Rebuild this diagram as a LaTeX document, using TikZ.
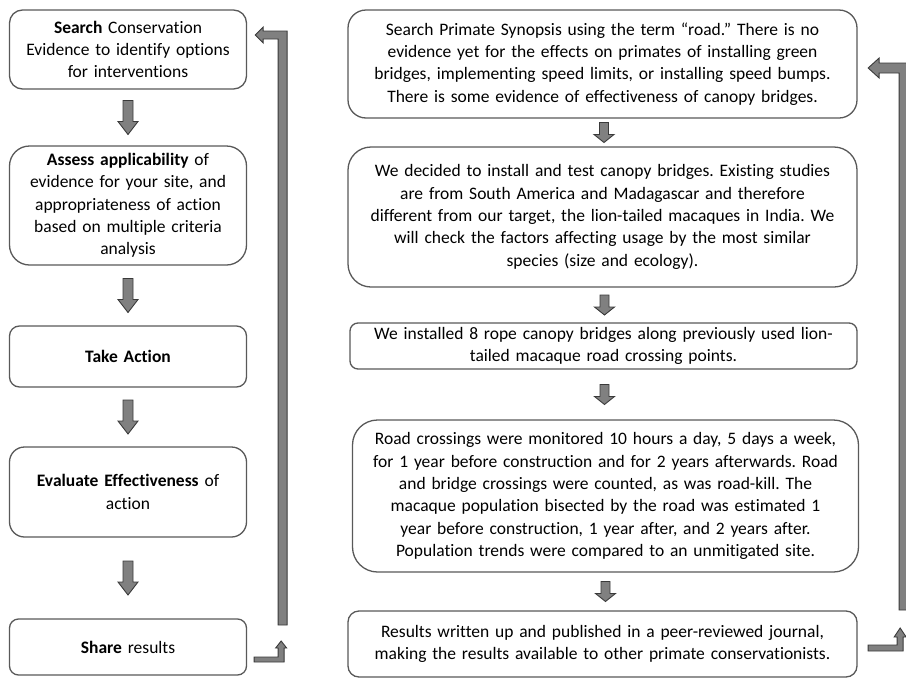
\documentclass[tikz,border=0pt]{standalone}
\usepackage{fontspec}
\setmainfont[Ligatures={NoCommon}]{Carlito}
\usetikzlibrary{calc}
\definecolor{boxline}{HTML}{595959}
\definecolor{arrfill}{HTML}{808080}
\definecolor{arrline}{HTML}{3A3A3A}
\tikzset{
  box/.style={draw=boxline, line width=1.3pt, fill=white, align=center, inner sep=2pt,
    font=\fontsize{17.5}{22.3}\selectfont\frenchspacing},
  lbox/.style={box, minimum width=237, text width=232},
  rbox/.style={box, text width=502},
  blk/.style={fill=arrfill, draw=arrline, line width=0.9pt, line join=miter},
  bigdown/.pic={\filldraw[blk] (-5,-17) -- (5,-17) -- (5,4) -- (10,4) -- (0,17) -- (-10,4) -- (-5,4) -- cycle;},
  smalldown/.pic={\filldraw[blk] (-4.5,-10) -- (4.5,-10) -- (4.5,2) -- (10,2) -- (0,10) -- (-10,2) -- (-4.5,2) -- cycle;}
}
\begin{document}
\begin{tikzpicture}[x=1pt,y=-1pt]
\useasboundingbox (0,0) rectangle (906,678);
\clip (0,0) rectangle (906,678);
% left column
\node[lbox, minimum height=79, rounded corners=13] (b1) at (128,49.5)
  {\textbf{Search} Conservation\\Evidence to identify options\\for interventions};
\node[lbox, minimum height=119, rounded corners=20] (b2) at (128,205.5)
  {\textbf{Assess applicability} of\\evidence for your site, and\\appropriateness of action\\based on multiple criteria\\analysis};
\node[lbox, minimum height=61, rounded corners=10] (b3) at (128,356.5)
  {\textbf{Take Action}};
\node[lbox, minimum height=90, rounded corners=15] (b4) at (128,492)
  {\textbf{Evaluate Effectiveness} of\\action};
\node[lbox, minimum height=56, rounded corners=9] (b5) at (128,647)
  {\textbf{Share} results};
% right column
\node[rbox, minimum width=509, minimum height=108, rounded corners=18] (r1) at (602.5,64)
  {Search Primate Synopsis using the term “road.” There is no\\evidence yet for the effects on primates of installing green\\bridges, implementing speed limits, or installing speed bumps.\\There is some evidence of effectiveness of canopy bridges.};
\node[rbox, minimum width=509, minimum height=140, rounded corners=23] (r2) at (602.5,217)
  {We decided to install and test canopy bridges. Existing studies\\are from South America and Madagascar and therefore\\different from our target, the lion-tailed macaques in India. We\\will check the factors affecting usage by the most similar\\species (size and ecology).};
\node[rbox, minimum width=507, minimum height=46, rounded corners=8] (r3) at (603.5,346)
  {We installed 8 rope canopy bridges along previously used lion-\\tailed macaque road crossing points.};
\node[rbox, minimum width=503, minimum height=152, rounded corners=25] (r4) at (605.5,496)
  {Road crossings were monitored 10 hours a day, 5 days a week,\\for 1 year before construction and for 2 years afterwards. Road\\and bridge crossings were counted, as was road-kill. The\\macaque population bisected by the road was estimated 1\\year before construction, 1 year after, and 2 years after.\\Population trends were compared to an unmitigated site.};
\node[rbox, minimum width=509, minimum height=66, rounded corners=11] (r5) at (602.5,644)
  {Results written up and published in a peer-reviewed journal,\\making the results available to other primate conservationists.};
% down arrows, left
\pic at ($(b1.south)!0.5!(b2.north)$) {bigdown};
\pic at ($(b2.south)!0.5!(b3.north)$) {bigdown};
\pic at ($(b3.south)!0.5!(b4.north)$) {bigdown};
\pic at ($(b4.south)!0.5!(b5.north)$) {bigdown};
% down arrows, right
\pic at ($(r1.south)!0.5!(r2.north)+(1.5,0)$) {smalldown};
\pic at ($(r2.south)!0.5!(r3.north)+(1.5,0)$) {smalldown};
\pic at ($(r3.south)!0.5!(r4.north)+(0,0)$) {smalldown};
\pic at ($(r4.south)!0.5!(r5.north)+(1.5,0)$) {smalldown};
% left return loop
\coordinate (ltip) at ($(b1.east)+(8,-14.5)$);
\filldraw[blk] (ltip) -- ++(8,-8) -- ++(0,4) -- ++(24,0) -- ++(0,594) -- ++(-9,0)
  -- ++(0,-586) -- ++(-15,0) -- ++(0,4) -- cycle;
\coordinate (lstart) at ($(b5.east)+(7,10)$);
\filldraw[blk] (lstart) -- ++(24,0) -- ++(0,-9) -- ++(-2.5,0) -- ++(5.5,-7) -- ++(5.5,7)
  -- ++(-2.5,0) -- ++(0,14) -- ++(-30,0) -- cycle;
% right return loop
\coordinate (rtip) at ($(r1.east)+(10.5,4)$);
\filldraw[blk] (rtip) -- ++(11,-10) -- ++(0,5) -- ++(30,0) -- ++(0,547) -- ++(-10,0)
  -- ++(0,-537) -- ++(-20,0) -- ++(0,5) -- cycle;
\coordinate (rstart) at ($(r5.east)+(10.5,1)$);
\filldraw[blk] (rstart) -- ++(29,0) -- ++(0,-8) -- ++(-3,0) -- ++(6,-9) -- ++(6,9)
  -- ++(-3,0) -- ++(0,14) -- ++(-35,0) -- cycle;
\end{tikzpicture}
\end{document}
